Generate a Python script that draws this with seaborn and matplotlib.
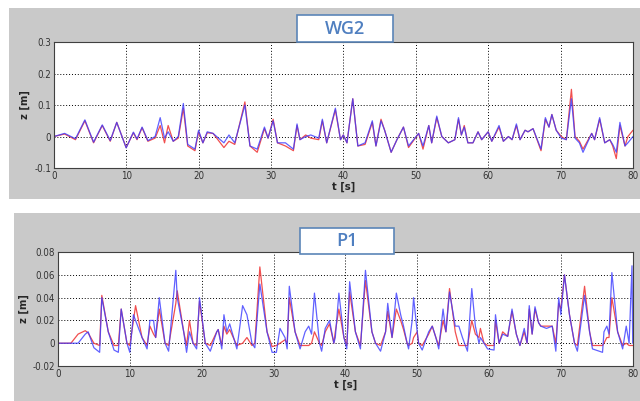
import numpy as np
import pandas as pd
import matplotlib
matplotlib.use("Agg")
import matplotlib.pyplot as plt
from matplotlib.patches import Rectangle
from matplotlib import font_manager
import seaborn as sns

# WG2 (wave gauge) - keypoints
wg2_t = [0, 1.5, 3.0, 4.3, 5.5, 6.7, 7.8, 8.7, 10.0, 11.0, 11.5, 12.2, 13.0, 14.0, 14.7,
         15.3, 15.8, 16.5, 17.2, 17.9, 18.5, 19.5, 20.0, 20.6, 21.2, 22.0, 23.5, 24.2, 25.0,
         26.4, 27.1, 28.1, 29.1, 29.6, 30.3, 30.9, 32.0, 33.1, 33.6, 34.0, 34.8, 35.5, 36.6,
         37.1, 37.7, 38.9, 39.6, 40.0, 40.5, 41.3, 42.0, 43.0, 44.0, 44.5, 45.2, 45.7, 46.6,
         47.4, 48.3, 49.0, 50.4, 51.0, 51.8, 52.2, 52.9, 53.6, 54.5, 55.4, 55.9, 56.3, 56.7,
         57.2, 57.9, 58.6, 59.1, 60.0, 60.5, 61.5, 62.1, 62.8, 63.3, 63.9, 64.4, 65.1, 65.5,
         66.2, 67.3, 67.9, 68.4, 68.8, 69.4, 70.1, 70.8, 71.5, 72.0, 72.6, 73.1, 74.3, 74.7,
         75.4, 76.1, 76.8, 77.2, 77.7, 78.2, 78.9, 79.3, 80.0]
wg2_red = [0.0, 0.008, -0.01, 0.05, -0.02, 0.035, -0.015, 0.045, -0.035, 0.012, -0.01, 0.028,
           -0.015, -0.005, 0.035, -0.02, 0.035, -0.015, -0.005, 0.09, -0.03, -0.045, 0.015,
           -0.02, 0.012, 0.01, -0.035, -0.015, -0.025, 0.11, -0.03, -0.05, 0.025, -0.005, 0.055,
           -0.02, -0.03, -0.045, 0.035, -0.01, 0.005, -0.005, -0.01, 0.05, -0.02, 0.085, -0.01,
           0.005, -0.02, 0.12, -0.03, -0.025, 0.045, -0.03, 0.055, 0.02, -0.05, -0.01, 0.03,
           -0.035, 0.01, -0.04, 0.035, -0.02, 0.06, 0.0, -0.02, -0.01, 0.055, 0.005, 0.035,
           -0.02, -0.02, 0.015, -0.01, 0.015, -0.015, 0.03, -0.015, 0.0, -0.01, 0.035, -0.01,
           0.02, 0.015, 0.025, -0.045, 0.055, 0.03, 0.07, 0.02, 0.0, -0.01, 0.15, 0.0, -0.015,
           -0.04, 0.01, -0.01, 0.055, -0.02, -0.01, -0.03, -0.07, 0.035, -0.03, 0.0, 0.02]
wg2_blue = [0.0, 0.01, -0.007, 0.053, -0.018, 0.037, -0.013, 0.045, -0.036, 0.014, -0.008, 0.03,
            -0.013, 0.0, 0.06, -0.005, 0.015, -0.015, 0.0, 0.105, -0.025, -0.04, 0.02, -0.02,
            0.015, 0.01, -0.02, 0.005, -0.02, 0.1, -0.03, -0.04, 0.03, -0.005, 0.05, -0.02,
            -0.02, -0.04, 0.04, -0.01, 0.0, 0.005, -0.005, 0.055, -0.02, 0.09, -0.01, 0.005,
            -0.02, 0.12, -0.03, -0.02, 0.05, -0.03, 0.05, 0.02, -0.05, -0.01, 0.03, -0.03, 0.01,
            -0.03, 0.035, -0.02, 0.065, 0.0, -0.02, -0.01, 0.06, 0.005, 0.03, -0.02, -0.02,
            0.015, -0.01, 0.015, -0.015, 0.035, -0.015, 0.0, -0.01, 0.04, -0.01, 0.02, 0.015,
            0.025, -0.04, 0.06, 0.03, 0.07, 0.02, -0.005, -0.01, 0.12, -0.005, -0.02, -0.05,
            0.01, -0.01, 0.06, -0.02, -0.01, -0.025, -0.05, 0.045, -0.03, -0.02, 0.0]

# P1 (pressure point)
p1_t = [0, 1.8, 2.8, 3.8, 4.2, 5.0, 5.8, 6.1, 7.0, 7.8, 8.4, 8.8, 9.6, 10.0, 10.5, 10.8, 11.7,
        12.4, 12.8, 13.3, 13.6, 14.1, 14.9, 15.4, 16.4, 16.6, 17.5, 17.9, 18.3, 18.8, 19.3,
        19.7, 20.5, 21.2, 22.1, 22.3, 22.8, 23.1, 23.5, 23.9, 24.9, 25.7, 26.3, 27.0, 27.4,
        28.1, 29.1, 29.8, 30.4, 30.9, 31.6, 31.9, 32.2, 33.0, 33.7, 34.4, 34.9, 35.3, 35.7,
        36.4, 36.7, 37.2, 37.8, 38.4, 38.6, 39.1, 39.8, 40.2, 40.6, 41.4, 42.1, 42.8, 43.7,
        44.2, 44.9, 45.6, 45.9, 46.5, 47.1, 47.7, 48.1, 48.6, 48.8, 49.3, 49.5, 50.0, 50.2,
        50.7, 51.6, 52.1, 52.6, 53.0, 53.6, 54.0, 54.5, 55.3, 55.8, 56.3, 57.0, 57.6, 58.1,
        58.6, 58.8, 59.3, 59.8, 60.7, 60.9, 61.4, 61.9, 62.6, 63.2, 63.8, 64.3, 64.9, 65.3,
        65.6, 66.0, 66.4, 66.9, 67.2, 68.0, 68.8, 69.3, 69.7, 70.0, 70.5, 71.2, 71.9, 72.3,
        73.3, 74.0, 74.4, 75.8, 76.0, 76.4, 76.7, 77.1, 77.9, 78.6, 79.1, 79.5, 79.9, 80.0]
p1_red = [0, 0, 0.008, 0.011, 0.009, 0.0, -0.002, 0.042, 0.01, -0.002, -0.002, 0.03, 0.0,
          -0.002, 0.02, 0.033, 0.005, -0.002, 0.015, 0.008, 0.005, 0.03, 0.0, -0.002, 0.035,
          0.046, 0.01, -0.002, 0.02, 0.0, -0.002, 0.037, 0.0, -0.002, 0.01, 0.012, -0.002,
          0.015, 0.008, 0.012, -0.002, 0.0, 0.005, -0.002, 0.0, 0.067, 0.01, -0.003, -0.002,
          0.0, 0.003, 0.0, 0.04, 0.01, -0.002, -0.002, -0.002, 0.0, 0.01, 0.0, -0.002, 0.01,
          0.017, 0.0, 0.01, 0.03, 0.005, -0.002, 0.045, 0.01, -0.002, 0.055, 0.01, 0.0,
          -0.002, 0.01, 0.028, 0.005, 0.03, 0.02, 0.012, 0.0, -0.002, 0.0, 0.005, 0.01, 0.0,
          -0.002, 0.008, 0.015, 0.005, -0.002, 0.02, 0.01, 0.048, 0.01, -0.002, -0.002,
          -0.002, 0.02, 0.008, 0.005, 0.013, 0.0, -0.002, -0.002, 0.02, 0.0, 0.01, 0.006,
          0.028, 0.008, -0.002, 0.01, 0.0, 0.03, 0.008, 0.03, 0.018, 0.015, 0.015, 0.015,
          0.0, 0.035, 0.03, 0.06, 0.025, 0.0, -0.002, 0.05, 0.01, -0.002, -0.002, 0.0, 0.005,
          0.005, 0.04, 0.01, -0.002, 0.0, -0.002, -0.002, -0.002]
p1_blue = [0, 0, 0.0, 0.008, 0.01, -0.004, -0.008, 0.04, 0.01, -0.006, -0.008, 0.03, 0.0,
           -0.008, 0.025, 0.02, 0.005, -0.005, 0.02, 0.02, 0.005, 0.04, 0.0, -0.007, 0.064,
           0.04, 0.01, -0.008, 0.01, 0.0, -0.005, 0.04, 0.0, -0.007, 0.01, 0.012, -0.005,
           0.025, 0.01, 0.017, -0.005, 0.033, 0.025, 0.0, -0.004, 0.052, 0.01, -0.008, -0.008,
           0.013, 0.005, -0.005, 0.05, 0.01, -0.005, 0.01, 0.015, 0.008, 0.044, 0.0, -0.007,
           0.013, 0.02, 0.0, 0.005, 0.044, 0.005, -0.005, 0.054, 0.01, -0.005, 0.064, 0.01,
           0.0, -0.007, 0.01, 0.035, 0.005, 0.044, 0.025, 0.015, 0.0, -0.005, 0.02, 0.04, 0.01,
           0.0, -0.006, 0.01, 0.015, 0.005, -0.005, 0.03, 0.01, 0.045, 0.015, 0.015, 0.005,
           -0.007, 0.048, 0.015, 0.0, 0.005, 0.0, -0.005, -0.006, 0.025, 0.0, 0.008, 0.006,
           0.03, 0.008, -0.002, 0.013, 0.0, 0.033, 0.008, 0.032, 0.018, 0.015, 0.013, 0.015,
           -0.007, 0.04, 0.025, 0.06, 0.025, 0.0, -0.007, 0.042, 0.01, -0.005, -0.008, 0.01,
           0.015, 0.008, 0.062, 0.01, -0.005, 0.015, 0.0, 0.068, 0.0]

x_ticks = [0, 10, 20, 30, 40, 50, 60, 70, 80]
wg2_yticks = [-0.1, 0, 0.1, 0.2, 0.3]
wg2_ylabels = ["-0.1", "0", "0.1", "0.2", "0.3"]
p1_yticks = [-0.02, 0, 0.02, 0.04, 0.06, 0.08]
p1_ylabels = ["-0.02", "0", "0.02", "0.04", "0.06", "0.08"]

sns.set_style("white")
plt.rcParams["font.family"] = ["DejaVu Sans"]
plt.rcParams["font.stretch"] = "condensed"

fig = plt.figure(figsize=(6.4, 4.01), dpi=100)
fig.patch.set_facecolor("white")

panel_gray = "#c9c9c9"
fig.patches.append(Rectangle((0.014, 0.504), 0.986, 0.476, transform=fig.transFigure,
                             facecolor=panel_gray, edgecolor="none", zorder=-1))
fig.patches.append(Rectangle((0.022, 0.0), 0.978, 0.469, transform=fig.transFigure,
                             facecolor=panel_gray, edgecolor="none", zorder=-1))

ax1 = fig.add_axes([0.084, 0.581, 0.905, 0.314])
ax2 = fig.add_axes([0.0906, 0.0873, 0.898, 0.284])

red = "#f03c3c"
blue = "#3a3aff"


def draw_panel(ax, t, zr, zb, yticks, ylabels):
    df = pd.DataFrame({"t": t, "red": zr, "blue": zb})
    sns.lineplot(data=df, x="t", y="red", ax=ax, color=red, lw=0.9, alpha=0.9)
    sns.lineplot(data=df, x="t", y="blue", ax=ax, color=blue, lw=0.9, alpha=0.8)
    ax.set_zorder(1)
    ax.set_facecolor("white")
    ax.set_xlim(0, 80)
    ax.set_ylim(yticks[0], yticks[-1])
    ax.set_xticks(x_ticks)
    ax.set_xticklabels([str(v) for v in x_ticks])
    ax.set_yticks(yticks)
    ax.set_yticklabels(ylabels)
    ax.grid(True, color="black", linestyle=(0, (1, 2)), lw=0.7)
    ax.tick_params(direction="in", length=2, labelsize=7, pad=2, colors="#333333")
    for s in ax.spines.values():
        s.set_color("#404040")
        s.set_linewidth(0.8)
    ax.set_xlabel("t [s]", fontsize=8, fontweight="bold", labelpad=1)
    ax.set_ylabel("z [m]", fontsize=8, fontweight="bold", labelpad=3)


draw_panel(ax1, wg2_t, wg2_red, wg2_blue, wg2_yticks, wg2_ylabels)
draw_panel(ax2, p1_t, p1_red, p1_blue, p1_yticks, p1_ylabels)


def title_box(x0, y0, w, h, label):
    fig.patches.append(Rectangle((x0, y0), w, h, transform=fig.transFigure,
                                 facecolor="white", edgecolor="#5b85b8", lw=1.2, zorder=5))
    fig.text(x0 + w / 2, y0 + h / 2, label, ha="center", va="center", fontsize=13,
             color="#4f7fc0", fontweight="semibold", family=["Open Sans", "DejaVu Sans"],
             fontstretch="normal", zorder=6)


title_box(297 / 640, 1 - 42 / 401, 96 / 640, 27 / 401, "WG2")
title_box(300 / 640, 1 - 254 / 401, 94 / 640, 26 / 401, "P1")

fig.savefig("out.png", dpi=100)
